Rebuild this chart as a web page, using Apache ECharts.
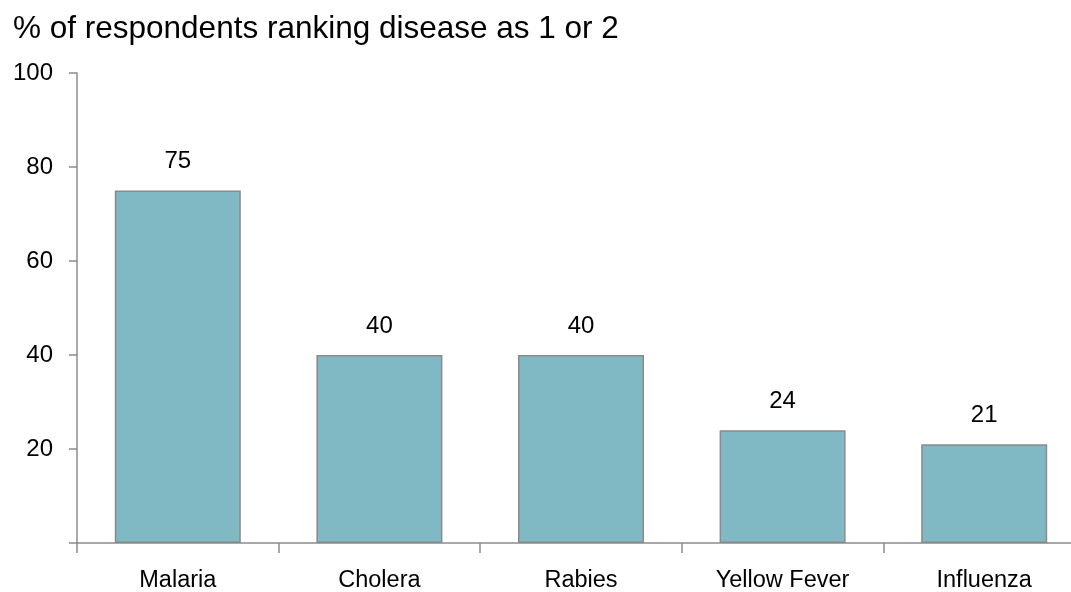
<!DOCTYPE html>
<html>
<head>
<meta charset="utf-8">
<script src="https://cdn.jsdelivr.net/npm/echarts@6/dist/echarts.min.js"></script>
<style>
  html, body { margin: 0; padding: 0; background: #fff; }
  #chart { width: 1071px; height: 592px; }
</style>
</head>
<body>
<div id="chart"></div>
<script>
// diseases and share of respondents ranking them 1 or 2
const categories = ['Malaria', 'Cholera', 'Rabies', 'Yellow Fever', 'Influenza'];
const values = [75, 40, 40, 24, 21];
const yTicks = [0, 20, 40, 60, 80, 100];

const chart = echarts.init(document.getElementById('chart'));
const axisGrey = '#8c8c8c';
const font = 'Liberation Sans, Arial, sans-serif';

chart.setOption({
  animation: false,
  title: {
    text: '% of respondents ranking disease as 1 or 2',
    left: 8,
    top: 8,
    textStyle: { fontFamily: font, fontSize: 31.5, fontWeight: 'normal', color: '#000' }
  },
  grid: { left: 77, top: 73, bottom: 49, right: -14, outerBoundsMode: 'none', containLabel: false },
  xAxis: {
    type: 'category',
    data: categories,
    axisLine: { lineStyle: { color: axisGrey, width: 1.5 } },
    axisTick: { show: true, length: 10, lineStyle: { color: axisGrey, width: 1.5 } },
    axisLabel: { color: '#000', fontFamily: font, fontSize: 23.5, margin: 26 }
  },
  yAxis: {
    type: 'value',
    min: yTicks[0],
    max: yTicks[yTicks.length - 1],
    interval: 20,
    axisLine: { show: true, lineStyle: { color: axisGrey, width: 1.5 } },
    axisTick: { show: true, inside: false, length: 8, lineStyle: { color: axisGrey, width: 1.5 } },
    splitLine: { show: false },
    axisLabel: {
      color: '#000', fontFamily: font, fontSize: 24, margin: 24,
      formatter: v => (v === 0 ? '' : String(v))
    }
  },
  series: [{
    type: 'bar',
    data: values,
    barWidth: '62.5%',
    itemStyle: { color: '#80b8c4', borderColor: '#8a8a8a', borderWidth: 1.5 },
    label: {
      show: true,
      position: 'top',
      distance: 17,
      color: '#000',
      fontFamily: font,
      fontSize: 24
    }
  }]
});
</script>
</body>
</html>
